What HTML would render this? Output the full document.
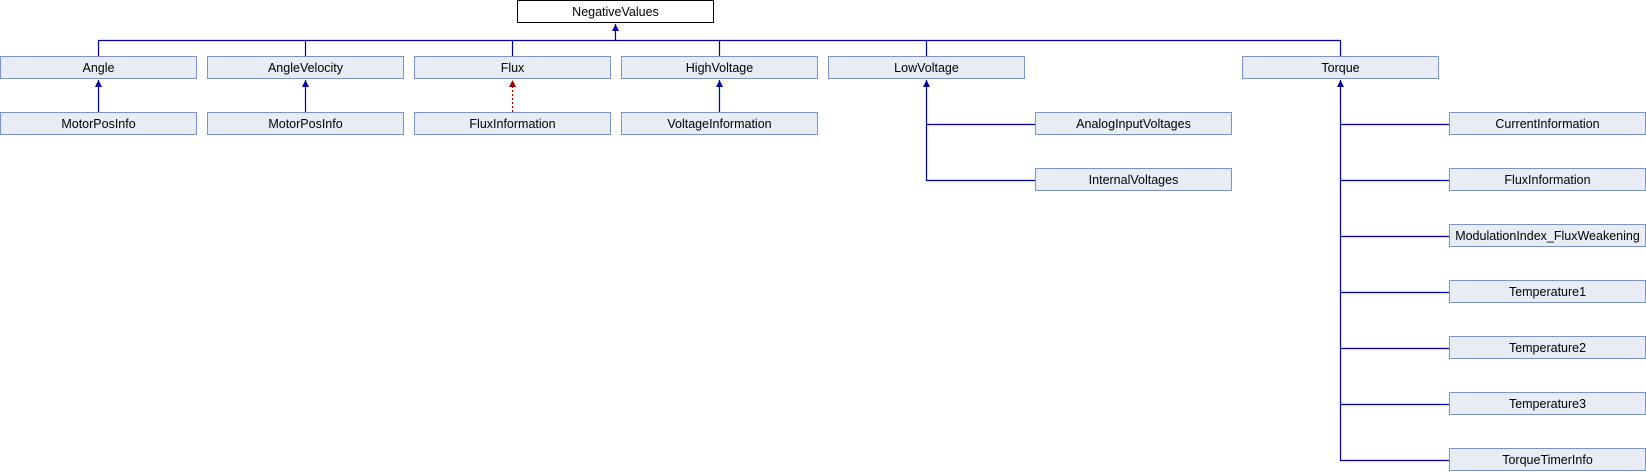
<!DOCTYPE html>
<html><head><meta charset="utf-8"><style>
html,body{margin:0;padding:0;background:#fff;}
svg{display:block;}
text{font-family:"Liberation Sans",sans-serif;font-size:12.5px;fill:#000;text-anchor:middle;}
.b{fill:#e8ecf5;stroke:#7b93c8;stroke-width:1;}
.l{stroke:#0000a0;stroke-width:1.2;fill:none;}
</style></head><body>
<svg width="1646" height="472" viewBox="0 0 1646 472">
<defs>
<marker id="a" markerWidth="8" markerHeight="8" refX="4" refY="0" orient="auto" markerUnits="userSpaceOnUse" viewBox="-4 -1 8 8"><path d="M-3,7 L0,0 L3,7 Z" fill="#0000a0"/></marker>
</defs>
<!-- connectors top -->
<path class="l" d="M98.5,56 V40.5 H1340.5 V56"/>
<path class="l" d="M305.5,40 V56 M512.5,40 V56 M719.5,40 V56 M926.5,40 V56"/>
<path d="M615.5,40 V24" stroke="#0000a0" stroke-width="1.2"/>
<path d="M612,31 L615.5,24 L619,31 Z" fill="#0000a0"/>
<!-- row2 arrows -->
<path d="M98.5,112 V80 M305.5,112 V80 M719.5,112 V80" stroke="#0000a0" stroke-width="1.2"/>
<path d="M95,87 L98.5,80 L102,87 Z M302,87 L305.5,80 L309,87 Z M716,87 L719.5,80 L723,87 Z" fill="#0000a0"/>
<path d="M512.5,112 V80" stroke="#a00000" stroke-width="1.2" stroke-dasharray="2,2"/>
<path d="M509,87 L512.5,80 L516,87 Z" fill="#a00000"/>
<!-- LowVoltage children -->
<path class="l" d="M926.5,80 V180.5 H1035 M926.5,124.5 H1035"/>
<path d="M923,87 L926.5,80 L930,87 Z" fill="#0000a0"/>
<!-- Torque children -->
<path class="l" d="M1340.5,80 V460.5 H1449 M1340.5,124.5 H1449 M1340.5,180.5 H1449 M1340.5,236.5 H1449 M1340.5,292.5 H1449 M1340.5,348.5 H1449 M1340.5,404.5 H1449"/>
<path d="M1337,87 L1340.5,80 L1344,87 Z" fill="#0000a0"/>
<!-- boxes -->
<rect x="517.5" y="0.5" width="196" height="22" fill="#fff" stroke="#000"/>
<text x="615.5" y="16">NegativeValues</text>
<g>
<rect class="b" x="0.5" y="56.5" width="196" height="22"/><text x="98.5" y="72">Angle</text>
<rect class="b" x="207.5" y="56.5" width="196" height="22"/><text x="305.5" y="72">AngleVelocity</text>
<rect class="b" x="414.5" y="56.5" width="196" height="22"/><text x="512.5" y="72">Flux</text>
<rect class="b" x="621.5" y="56.5" width="196" height="22"/><text x="719.5" y="72">HighVoltage</text>
<rect class="b" x="828.5" y="56.5" width="196" height="22"/><text x="926.5" y="72">LowVoltage</text>
<rect class="b" x="1242.5" y="56.5" width="196" height="22"/><text x="1340.5" y="72">Torque</text>

<rect class="b" x="0.5" y="112.5" width="196" height="22"/><text x="98.5" y="128">MotorPosInfo</text>
<rect class="b" x="207.5" y="112.5" width="196" height="22"/><text x="305.5" y="128">MotorPosInfo</text>
<rect class="b" x="414.5" y="112.5" width="196" height="22"/><text x="512.5" y="128">FluxInformation</text>
<rect class="b" x="621.5" y="112.5" width="196" height="22"/><text x="719.5" y="128">VoltageInformation</text>
<rect class="b" x="1035.5" y="112.5" width="196" height="22"/><text x="1133.5" y="128">AnalogInputVoltages</text>
<rect class="b" x="1035.5" y="168.5" width="196" height="22"/><text x="1133.5" y="184">InternalVoltages</text>

<rect class="b" x="1449.5" y="112.5" width="196" height="22"/><text x="1547.5" y="128">CurrentInformation</text>
<rect class="b" x="1449.5" y="168.5" width="196" height="22"/><text x="1547.5" y="184">FluxInformation</text>
<rect class="b" x="1449.5" y="224.5" width="196" height="22"/><text x="1547.5" y="240">ModulationIndex_FluxWeakening</text>
<rect class="b" x="1449.5" y="280.5" width="196" height="22"/><text x="1547.5" y="296">Temperature1</text>
<rect class="b" x="1449.5" y="336.5" width="196" height="22"/><text x="1547.5" y="352">Temperature2</text>
<rect class="b" x="1449.5" y="392.5" width="196" height="22"/><text x="1547.5" y="408">Temperature3</text>
<rect class="b" x="1449.5" y="448.5" width="196" height="22"/><text x="1547.5" y="464">TorqueTimerInfo</text>
</g>
</svg>
</body></html>
